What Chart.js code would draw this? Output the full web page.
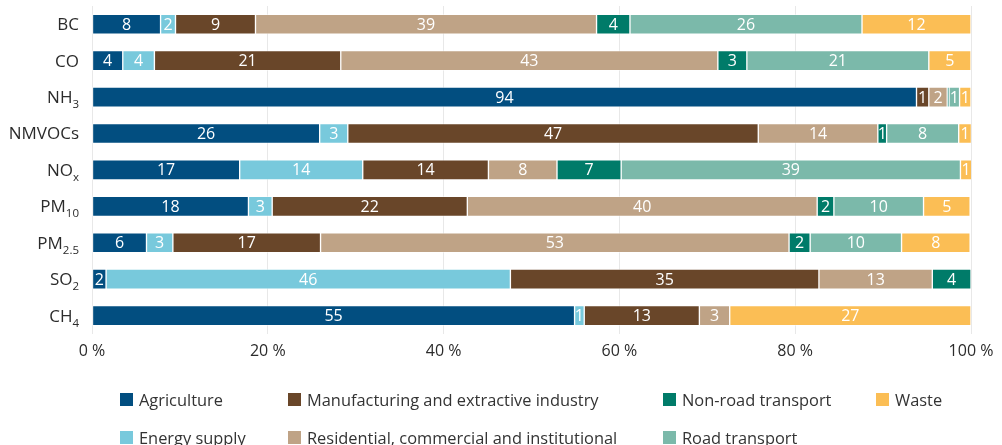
<!DOCTYPE html>
<html>
<head>
<meta charset="utf-8">
<script src="https://cdn.jsdelivr.net/npm/chart.js@4/dist/chart.umd.min.js"></script>
<style>
  html, body { margin: 0; padding: 0; background: #fff; }
  #wrap { position: relative; width: 1002px; height: 445px; font-family: "Open Sans", sans-serif; }
  #chart { position: absolute; left: 0; top: 0; }
  #legend {
    position: absolute; left: 120px; top: 380px;
    display: grid; grid-template-columns: 168px 375px 213px 120px;
    grid-template-rows: 38px 38px; grid-auto-flow: column;
    font-size: 16.4px; color: #333;
  }
  .item { display: flex; align-items: center; white-space: nowrap; }
  .sw { width: 13px; height: 13px; margin-right: 6px; flex: none; }
</style>
</head>
<body>
<div id="wrap">
  <canvas id="chart" width="1002" height="445"></canvas>
  <div id="legend"></div>
</div>
<script>
const categories = ['BC', 'CO', 'NH3', 'NMVOCs', 'NOx', 'PM10', 'PM2.5', 'SO2', 'CH4'];
const subscripts = ['', '', '3', '', 'x', '10', '2.5', '2', '4'];
const seriesNames = ['Agriculture', 'Energy supply', 'Manufacturing and extractive industry',
  'Residential, commercial and institutional', 'Non-road transport', 'Road transport', 'Waste'];
const agriculture   = [7.8, 3.5, 93.8, 25.9, 16.8, 17.8, 6.2, 1.6, 54.9];
const energySupply  = [1.7, 3.6, 0, 3.2, 14.0, 2.7, 3.0, 46.0, 1.1];
const manufacturing = [9.1, 21.2, 1.4, 46.7, 14.3, 22.2, 16.8, 35.1, 13.1];
const residential   = [38.8, 42.9, 2.1, 13.6, 7.8, 39.8, 53.3, 12.9, 3.45];
const nonRoad       = [3.8, 3.3, 0.2, 1.0, 7.3, 1.9, 2.4, 4.4, 0];
const road          = [26.4, 20.7, 1.2, 8.2, 38.6, 10.2, 10.4, 0, 0];
const waste         = [12.4, 4.8, 1.3, 1.45, 1.3, 5.3, 7.8, 0, 27.45];
const xTicks = [0, 20, 40, 60, 80, 100];

const colors = ['#024e80', '#78c9dc', '#694629', '#bfa386', '#007b69', '#7bb9aa', '#fbbe55'];
const seriesData = [agriculture, energySupply, manufacturing, residential, nonRoad, road, waste];
const FONT = '"Open Sans", sans-serif';

const valueLabels = {
  id: 'valueLabels',
  afterDatasetsDraw(chart) {
    const ctx = chart.ctx;
    ctx.save();
    ctx.font = '16px ' + FONT;
    ctx.fillStyle = '#ffffff';
    ctx.textAlign = 'center';
    ctx.textBaseline = 'middle';
    chart.data.datasets.forEach((ds, di) => {
      const meta = chart.getDatasetMeta(di);
      meta.data.forEach((el, i) => {
        const v = ds.data[i];
        if (v >= 0.5) {
          ctx.fillText(String(Math.round(v)), (el.x + el.base) / 2, el.y + 1);
        }
      });
    });
    ctx.restore();
  }
};

const yLabels = {
  id: 'yLabels',
  afterDraw(chart) {
    const ctx = chart.ctx;
    const ys = chart.scales.y;
    const right = 79;
    ctx.save();
    ctx.fillStyle = '#2b2b2b';
    ctx.textBaseline = 'alphabetic';
    categories.forEach((name, i) => {
      const sub = subscripts[i];
      const base = sub ? name.slice(0, name.length - sub.length) : name;
      const y = ys.getPixelForValue(i) + 6;
      ctx.font = '11.5px ' + FONT;
      const sw = sub ? ctx.measureText(sub).width : 0;
      ctx.font = '17px ' + FONT;
      ctx.textAlign = 'right';
      ctx.fillText(base, right - sw, y);
      if (sub) {
        ctx.font = '11.5px ' + FONT;
        ctx.textAlign = 'left';
        ctx.fillText(sub, right - sw, y + 5);
      }
    });
    ctx.restore();
  }
};

new Chart(document.getElementById('chart'), {
  type: 'bar',
  data: {
    labels: categories,
    datasets: seriesNames.map((n, k) => ({
      label: n,
      data: seriesData[k],
      backgroundColor: colors[k],
      borderColor: 'rgba(255,255,255,0.45)',
      borderWidth: 1,
      borderSkipped: false,
      barThickness: 20
    }))
  },
  options: {
    indexAxis: 'y',
    responsive: false,
    animation: false,
    layout: { padding: { left: 0, right: 31, top: 6, bottom: 76 } },
    plugins: { legend: { display: false }, tooltip: { enabled: false } },
    scales: {
      x: {
        stacked: true, min: 0, max: 100,
        afterBuildTicks(s) { s.ticks = xTicks.map(v => ({ value: v })); },
        ticks: { callback: v => v + ' %', color: '#2b2b2b', font: { family: FONT, size: 16 }, padding: 8 },
        grid: { color: '#e8e8e8', drawTicks: false },
        border: { display: false }
      },
      y: {
        stacked: true,
        afterFit(s) { s.width = 92; },
        ticks: { display: false },
        grid: { display: false },
        border: { display: false }
      }
    }
  },
  plugins: [valueLabels, yLabels]
});

const legend = document.getElementById('legend');
seriesNames.forEach((n, k) => {
  const d = document.createElement('div');
  d.className = 'item';
  d.innerHTML = '<span class="sw" style="background:' + colors[k] + '"></span><span></span>';
  d.lastChild.textContent = n;
  legend.appendChild(d);
});
</script>
</body>
</html>
